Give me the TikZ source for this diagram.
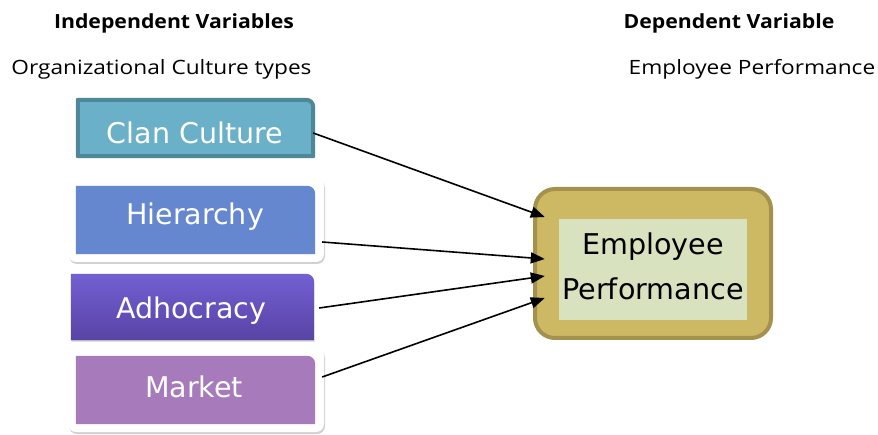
\documentclass[tikz,border=0pt]{standalone}
\usepackage{fontspec}
\usetikzlibrary{arrows.meta,shadows}
\newfontfamily\headfont[FakeStretch=1.15]{Open Sans}
\newfontfamily\headboldfont[FakeStretch=1.09]{Open Sans}
\newfontfamily\boxfont{DejaVu Sans}

\definecolor{clanFill}{HTML}{6AB0C8}
\definecolor{clanEdge}{HTML}{4F8798}
\definecolor{hierFill}{HTML}{6587CF}
\definecolor{adhoTop}{HTML}{7360D2}
\definecolor{adhoBot}{HTML}{5843A5}
\definecolor{marketFill}{HTML}{A67ABB}
\definecolor{empFill}{HTML}{CDB864}
\definecolor{empEdge}{HTML}{A5914E}
\definecolor{empInner}{HTML}{D8E2BE}

\tikzset{
  head/.style={font=\headboldfont\bfseries\fontsize{19.5}{23}\selectfont, text=black, inner sep=0pt, anchor=base},
  subhead/.style={font=\headfont\fontsize{19.7}{23}\selectfont, text=black, inner sep=0pt, anchor=base},
  area/.style={draw=none, inner sep=0pt},
  boxlabel/.style={font=\boxfont\fontsize{28.5}{33}\selectfont, text=white, inner sep=0pt, anchor=base},
  frame/.style={fill=white, rounded corners=8pt,
    drop shadow={shadow xshift=1pt, shadow yshift=-2pt, opacity=0.18, fill=black}},
  conn/.style={line width=1.6pt, -{Triangle[length=14pt,width=11pt]}},
}

\begin{document}
\begin{tikzpicture}[x=1pt,y=-1pt]
\useasboundingbox (0,0) rectangle (878,435);

% column headings
\node[head] (indep) at (174,29) {Independent Variables};
\node[subhead] (orgct) at (161.5,75) {Organizational Culture types};
\node[head] (dep) at (729,29) {Dependent Variable};
\node[subhead] (empct) at (752,75) {Employee Performance};

% box areas
\node[area, minimum width=239pt, minimum height=60pt] (clan) at (195.5,128) {};
\node[area, minimum width=239pt, minimum height=68pt] (hier) at (195.5,220) {};
\node[area, minimum width=243pt, minimum height=66pt] (adho) at (192.5,307) {};
\node[area, minimum width=239pt, minimum height=68pt] (market) at (195.5,390) {};
\node[area, minimum width=240pt, minimum height=153pt] (emp) at (653,263.5) {};

% Clan Culture
\filldraw[fill=clanFill, draw=clanEdge, line width=4pt, line join=round]
  ([shift={(2pt,2pt)}]clan.south west) -- ([shift={(2pt,-2pt)}]clan.north west)
  -- ([shift={(-9pt,-2pt)}]clan.north east) arc[start angle=90, end angle=0, radius=7pt]
  -- ([shift={(-2pt,2pt)}]clan.south east) -- cycle;
\node[boxlabel] at (195,143.3) {Clan Culture};

% Hierarchy
\path[frame] (68,178) rectangle (324,262);
\fill[hierFill] (hier.south west) -- (hier.north west)
  -- ([xshift=-8pt]hier.north east) arc[start angle=90, end angle=0, radius=8pt]
  -- (hier.south east) -- cycle;
\node[boxlabel] at (195,225) {Hierarchy};

% Adhocracy
\shade[top color=adhoTop, bottom color=adhoBot,
  drop shadow={shadow xshift=0.5pt, shadow yshift=-1.5pt, opacity=0.2, fill=black}]
  (adho.south west) -- (adho.north west)
  -- ([xshift=-8pt]adho.north east) arc[start angle=90, end angle=0, radius=8pt]
  -- (adho.south east) -- cycle;
\node[boxlabel] at (191,318.3) {Adhocracy};

% Market
\path[frame] (68,348) rectangle (324,432);
\fill[marketFill] (market.south west) -- (market.north west)
  -- ([xshift=-8pt]market.north east) arc[start angle=90, end angle=0, radius=8pt]
  -- (market.south east) -- cycle;
\node[boxlabel] at (194,398) {Market};

% Employee Performance
\filldraw[fill=empFill, draw=empEdge, line width=4pt, rounded corners=20pt]
  (535,189) rectangle (771,338);
\fill[empInner] (559,219) rectangle (747,320);
\node[font=\boxfont\fontsize{28.6}{45}\selectfont, text=black, align=center, inner sep=0pt]
  at (653,266) {Employee\\Performance};

% connectors
\draw[conn] ([shift={(-2pt,-5pt)}]clan.east) -- ([shift={(12pt,46.5pt)}]emp.west);
\draw[conn] ([shift={(7pt,-22pt)}]hier.east) -- ([shift={(12pt,4.5pt)}]emp.west);
\draw[conn] ([shift={(5pt,-1pt)}]adho.east) -- ([shift={(12pt,-12.5pt)}]emp.west);
\draw[conn] ([shift={(7pt,13pt)}]market.east) -- ([shift={(12pt,-34.5pt)}]emp.west);
\end{tikzpicture}
\end{document}
